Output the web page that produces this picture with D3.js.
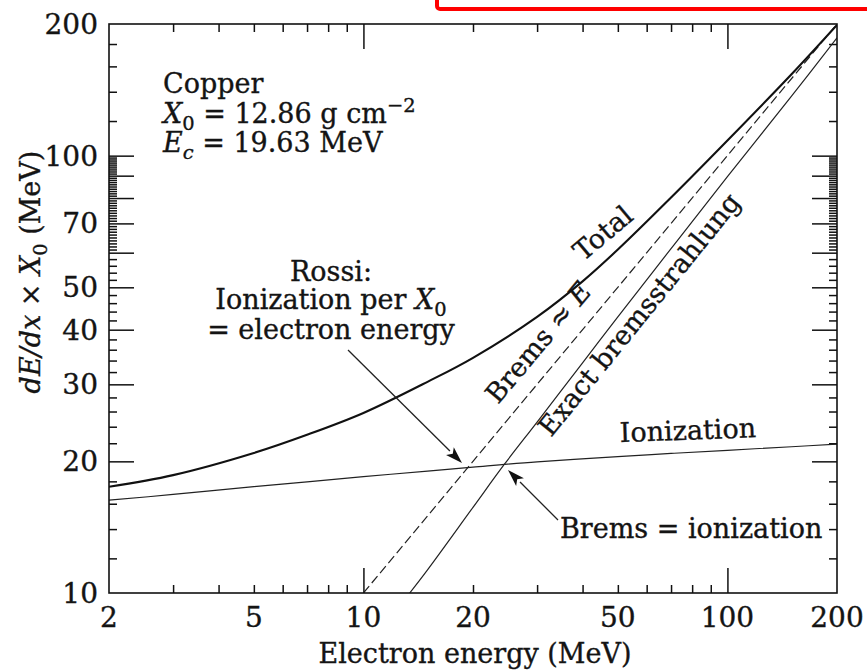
<!DOCTYPE html>
<html><head><meta charset="utf-8">
<script src="https://cdn.jsdelivr.net/npm/d3@7"></script>
<style>
body{margin:0;background:#fff;}
text{font-family:"DejaVu Serif","Liberation Serif",serif;fill:#141414;stroke:#141414;stroke-width:0.35px;}
</style></head><body>
<svg id="c" width="867" height="671"></svg>
<script>
// ---------- data ----------
const xTickLabels = [2, 5, 10, 20, 50, 100, 200];
const yTickLabels = [10, 20, 30, 40, 50, 70, 100, 200];
const xMajorTicks = [10, 100];
const xMinorTicks = [3, 4, 5, 6, 7, 8, 9, 20, 30, 40, 50, 60, 70, 80, 90];
const yMajorTicks = [20, 30, 40, 50, 60, 70, 80, 90, 100];
const yMinorTicks = [12, 14, 16, 18, 22, 24, 26, 28, 32, 34, 36, 38, 42, 44, 46, 48, 52, 54, 56, 58,
  61, 62, 63, 64, 65, 66, 67, 68, 69, 71, 72, 73, 74, 75, 76, 77, 78, 79,
  81, 82, 83, 84, 85, 86, 87, 88, 89, 91, 92, 93, 94, 95, 96, 97, 98, 99,
  120, 140, 160, 180];

// Ionization loss per X0
const ionEnergy = [2, 3, 5, 7, 10, 15, 20, 30, 50, 70, 100, 150, 200];
const ionValue  = [16.3, 16.8, 17.5, 17.95, 18.45, 19.0, 19.4, 19.95, 20.5, 20.85, 21.2, 21.6, 21.9];
// Total
const totalEnergy = [2, 3, 5, 7, 10, 15, 20, 30, 40, 50, 70, 100, 150, 200];
const totalValue  = [17.5, 18.6, 20.9, 23.0, 25.8, 30.4, 34.5, 42.8, 51.6, 61.0, 80.2, 108.3, 153.5, 199];
// Exact bremsstrahlung
const bremsEnergy = [13.4, 15, 20, 24.4, 30, 40, 50, 70, 100, 150, 200];
const bremsValue  = [10.0, 11.3, 15.7, 19.7, 24.6, 33.6, 42.8, 61.3, 89.5, 136.8, 186];
// Brems ≈ E
const approxEnergy = [10, 200];
const approxValue  = [10, 200];

// ---------- layout ----------
const svg = d3.select("#c");
const L = 109, R = 837, T = 24, B = 593;
const x = d3.scaleLog().domain([2, 200]).range([L, R]);
const y = d3.scaleLog().domain([10, 200]).range([B, T]);
const FS = 27;

// red frame (top right)
svg.append("rect").attr("x", 437).attr("y", -30).attr("width", 460).attr("height", 39)
  .attr("rx", 3).attr("fill", "none").attr("stroke", "#f00").attr("stroke-width", 4);

// clip
svg.append("clipPath").attr("id", "clip").append("rect")
  .attr("x", L).attr("y", T).attr("width", R - L).attr("height", B - T);

// axes ticks (inward)
function axisTicks(gen, vals, len, tr) {
  const g = svg.append("g").attr("transform", tr)
    .call(gen.tickValues(vals).tickSizeInner(-len).tickSizeOuter(0).tickFormat(""));
  g.select(".domain").remove();
  g.selectAll("line").attr("stroke", "#111").attr("stroke-width", 1.5);
}
axisTicks(d3.axisBottom(x), xMinorTicks, 8, `translate(0,${B})`);
axisTicks(d3.axisBottom(x), xMajorTicks, 25, `translate(0,${B})`);
axisTicks(d3.axisTop(x), xMinorTicks, 8, `translate(0,${T})`);
axisTicks(d3.axisTop(x), xMajorTicks, 25, `translate(0,${T})`);
axisTicks(d3.axisLeft(y), yMinorTicks, 8, `translate(${L},0)`);
axisTicks(d3.axisLeft(y), yMajorTicks, 25, `translate(${L},0)`);
axisTicks(d3.axisRight(y), yMinorTicks, 8, `translate(${R},0)`);
axisTicks(d3.axisRight(y), yMajorTicks, 25, `translate(${R},0)`);

// tick labels
svg.append("g").selectAll("text").data(xTickLabels).join("text")
  .attr("x", d => x(d)).attr("y", 627).attr("text-anchor", "middle")
  .attr("font-size", 28).text(d => d);
svg.append("g").selectAll("text").data(yTickLabels).join("text")
  .attr("x", 98).attr("y", d => y(d)).attr("dy", "0.36em").attr("text-anchor", "end")
  .attr("font-size", 28).text(d => d);

// curves
const line = d3.line().x(d => x(d[0])).y(d => y(d[1])).curve(d3.curveCatmullRom);
const zip = (a, b) => a.map((v, i) => [v, b[i]]);
const curves = svg.append("g").attr("clip-path", "url(#clip)");
curves.append("path").attr("d", line(zip(ionEnergy, ionValue)))
  .attr("fill", "none").attr("stroke", "#222").attr("stroke-width", 1.2);
curves.append("path").attr("d", line(zip(approxEnergy, approxValue)))
  .attr("fill", "none").attr("stroke", "#222").attr("stroke-width", 1.2).attr("stroke-dasharray", "9,4");
curves.append("path").attr("d", line(zip(bremsEnergy, bremsValue)))
  .attr("fill", "none").attr("stroke", "#222").attr("stroke-width", 1.2);
curves.append("path").attr("d", line(zip(totalEnergy, totalValue)))
  .attr("fill", "none").attr("stroke", "#111").attr("stroke-width", 2.1);

// frame
svg.append("rect").attr("x", L).attr("y", T).attr("width", R - L).attr("height", B - T)
  .attr("fill", "none").attr("stroke", "#111").attr("stroke-width", 1.6);

// arrows
function arrow(x1, y1, x2, y2) {
  const a = Math.atan2(y2 - y1, x2 - x1), hl = 17, hw = 5.5;
  const bx = x2 - hl * Math.cos(a), by = y2 - hl * Math.sin(a);
  svg.append("line").attr("x1", x1).attr("y1", y1).attr("x2", bx).attr("y2", by)
    .attr("stroke", "#222").attr("stroke-width", 1.3);
  const p = [[x2, y2],
    [bx + hw * Math.sin(a), by - hw * Math.cos(a)],
    [x2 - (hl - 4) * Math.cos(a), y2 - (hl - 4) * Math.sin(a)],
    [bx - hw * Math.sin(a), by + hw * Math.cos(a)]];
  svg.append("path").attr("d", "M" + p.map(q => q.join(",")).join("L") + "Z").attr("fill", "#111");
}
arrow(348, 350, 462, 463);
arrow(558, 520, 508, 470);

// text helpers
function rich(t, parts) {
  parts.forEach(p => {
    const s = t.append("tspan").text(p.t);
    if (p.i) s.attr("font-style", "italic");
    if (p.sub) s.attr("font-size", FS * 0.72).attr("dy", 7);
    if (p.sup) s.attr("font-size", FS * 0.72).attr("dy", -11);
    if (p.back) s.attr("dy", p.back);
  });
  return t;
}

// material block
svg.append("text").attr("x", 163).attr("y", 93).attr("font-size", FS).text("Copper");
rich(svg.append("text").attr("x", 163).attr("y", 123).attr("font-size", FS), [
  {t: "X", i: true}, {t: "0", sub: true}, {t: " = 12.86 g cm", back: -7}, {t: "−2", sup: true}]);
rich(svg.append("text").attr("x", 163).attr("y", 152).attr("font-size", FS), [
  {t: "E", i: true}, {t: "c", i: true, sub: true}, {t: " = 19.63 MeV", back: -7}]);

// Rossi
svg.append("text").attr("x", 331).attr("y", 281).attr("text-anchor", "middle").attr("font-size", FS).text("Rossi:");
rich(svg.append("text").attr("x", 331).attr("y", 309).attr("text-anchor", "middle").attr("font-size", FS), [
  {t: "Ionization per "}, {t: "X", i: true}, {t: "0", sub: true}]);
svg.append("text").attr("x", 331).attr("y", 339).attr("text-anchor", "middle").attr("font-size", FS).text("= electron energy");

// curve labels
svg.append("text").attr("transform", "translate(620,442) rotate(-2)").attr("font-size", FS).text("Ionization");
svg.append("text").attr("transform", "translate(583,262) rotate(-40)").attr("font-size", FS).text("Total");
rich(svg.append("text").attr("transform", "translate(498,405) rotate(-50)").attr("font-size", FS), [
  {t: "Brems ≈ "}, {t: "E", i: true}]);
svg.append("text").attr("transform", "translate(551,438) rotate(-51)").attr("font-size", FS).text("Exact bremsstrahlung");
svg.append("text").attr("x", 560).attr("y", 538).attr("font-size", FS).text("Brems = ionization");

// axis titles
svg.append("text").attr("x", (L + R) / 2 + 2).attr("y", 663).attr("text-anchor", "middle")
  .attr("font-size", FS).text("Electron energy (MeV)");
rich(svg.append("text").attr("transform", "translate(40,272) rotate(-90)").attr("text-anchor", "middle").attr("font-size", FS), [
  {t: "dE/dx", i: true}, {t: " × "}, {t: "X", i: true}, {t: "0", sub: true}, {t: " (MeV)", back: -7}]);
</script>
</body></html>
